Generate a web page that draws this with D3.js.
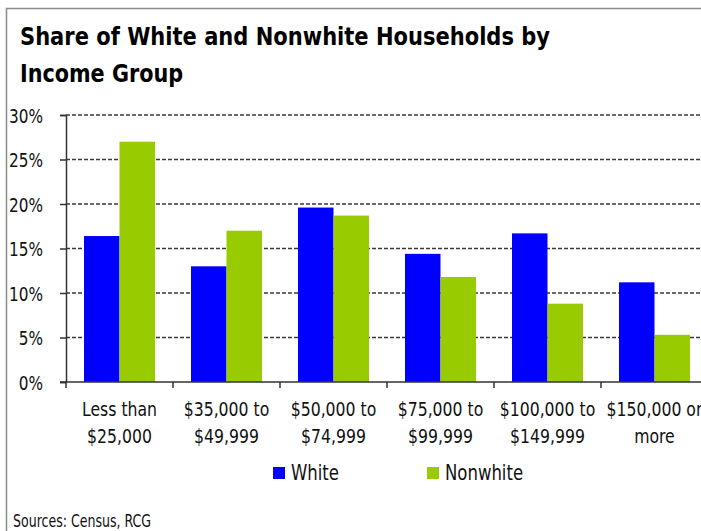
<!DOCTYPE html>
<html>
<head>
<meta charset="utf-8">
<script src="https://cdn.jsdelivr.net/npm/d3@7"></script>
<style>
  html, body { margin: 0; padding: 0; background: #fff; }
  svg { display: block; }
  text { font-stretch: condensed; }
</style>
</head>
<body>
<svg id="chart" width="701" height="531"></svg>
<script>
// Income groups (two-line labels) and household shares, in percent
const categories = [
  ["Less than", "$25,000"],
  ["$35,000 to", "$49,999"],
  ["$50,000 to", "$74,999"],
  ["$75,000 to", "$99,999"],
  ["$100,000 to", "$149,999"],
  ["$150,000 or", "more"]
];
const seriesNames = ["White", "Nonwhite"];
const whiteValues = [16.4, 13.0, 19.6, 14.4, 16.7, 11.2];
const nonwhiteValues = [27.0, 17.0, 18.7, 11.8, 8.8, 5.3];
const yTicks = [0, 5, 10, 15, 20, 25, 30];
const titleLines = ["Share of White and Nonwhite Households by", "Income Group"];
const colors = { White: "#0000ff", Nonwhite: "#99cc00" };

const svg = d3.select("#chart");
const font = '"DejaVu Sans Condensed", "DejaVu Sans", sans-serif';

// narrow a text horizontally by a factor, keeping its anchor point
function squeeze(sel, factor) {
  sel.each(function () {
    const w = this.getComputedTextLength();
    d3.select(this).attr("textLength", w * factor).attr("lengthAdjust", "spacingAndGlyphs");
  });
}
function naturalWidth(str, size, weight) {
  const t = svg.append("text").attr("font-family", font).attr("font-size", size)
    .attr("font-weight", weight || "normal").text(str);
  const w = t.node().getComputedTextLength();
  t.remove();
  return w;
}

// outer frame
svg.append("rect")
  .attr("x", 6.5).attr("y", 8.5)
  .attr("width", 800).attr("height", 600)
  .attr("fill", "none").attr("stroke", "#8c8c8c").attr("stroke-width", 1.5);

// title
const titleTargets = [530, 163];
titleLines.forEach((line, i) => {
  svg.append("text")
    .attr("x", 20).attr("y", 45 + i * 37)
    .attr("font-family", font).attr("font-weight", "bold")
    .attr("font-size", 25).attr("fill", "#000")
    .attr("textLength", titleTargets[i]).attr("lengthAdjust", "spacingAndGlyphs")
    .text(line);
});

// scales
const plotLeft = 66, plotBottom = 382, plotTop = 115, bandW = 107;
const catKeys = categories.map(c => c.join(" "));
const x0 = d3.scaleBand().domain(catKeys).range([plotLeft, plotLeft + bandW * categories.length]);
const x1 = d3.scaleBand().domain(seriesNames).range([18, 89]);
const y = d3.scaleLinear().domain([0, 30]).range([plotBottom, plotTop]);

// dashed gridlines
svg.append("g")
  .selectAll("line")
  .data(yTicks.filter(t => t > 0))
  .join("line")
  .attr("x1", plotLeft).attr("x2", 701)
  .attr("y1", d => y(d)).attr("y2", d => y(d))
  .attr("stroke", "#3a3a3a").attr("stroke-width", 1.4)
  .attr("stroke-dasharray", "4,2");

// bars
const rows = categories.map((c, i) => ({
  key: catKeys[i],
  values: [
    { name: "White", value: whiteValues[i] },
    { name: "Nonwhite", value: nonwhiteValues[i] }
  ]
}));
svg.append("g")
  .selectAll("g")
  .data(rows)
  .join("g")
  .attr("transform", d => `translate(${x0(d.key)},0)`)
  .selectAll("rect")
  .data(d => d.values)
  .join("rect")
  .attr("x", d => x1(d.name))
  .attr("width", x1.bandwidth())
  .attr("y", d => y(d.value))
  .attr("height", d => y(0) - y(d.value))
  .attr("fill", d => colors[d.name]);

// y axis
const yAxis = svg.append("g")
  .attr("transform", `translate(${plotLeft},0)`)
  .call(d3.axisLeft(y).tickValues(yTicks).tickFormat(d => d + "%").tickSize(6).tickPadding(17));
yAxis.select(".domain").attr("stroke", "#333").attr("stroke-width", 1.5);
yAxis.selectAll(".tick line").attr("stroke", "#333").attr("stroke-width", 1.5);
const yLabels = yAxis.selectAll(".tick text")
  .attr("font-family", font).attr("font-size", 20).attr("fill", "#111")
  .attr("dy", "0.35em");
squeeze(yLabels, 34 / naturalWidth("30%", 20));

// x axis baseline with ticks at band edges
const xAxisG = svg.append("g");
xAxisG.append("line")
  .attr("x1", plotLeft - 6).attr("x2", 701)
  .attr("y1", plotBottom).attr("y2", plotBottom)
  .attr("stroke", "#333").attr("stroke-width", 1.5);
xAxisG.selectAll("line.tk")
  .data(catKeys)
  .join("line")
  .attr("class", "tk")
  .attr("x1", d => x0(d)).attr("x2", d => x0(d))
  .attr("y1", plotBottom).attr("y2", plotBottom + 6)
  .attr("stroke", "#333").attr("stroke-width", 1.5);

// category labels, one text per line
const lineData = [];
categories.forEach((c, i) => c.forEach((t, j) => lineData.push({ t, j, key: catKeys[i] })));
const catLabels = xAxisG.selectAll("text.cat")
  .data(lineData)
  .join("text")
  .attr("class", "cat")
  .attr("x", d => x0(d.key) + x0.bandwidth() / 2)
  .attr("y", d => 416 + d.j * 27)
  .attr("font-family", font).attr("font-size", 20).attr("fill", "#111")
  .attr("text-anchor", "middle")
  .text(d => d.t);
squeeze(catLabels, 75 / naturalWidth("Less than", 20));

// legend
const legendX = [273, 427];
const leg = svg.append("g")
  .selectAll("g")
  .data(seriesNames)
  .join("g")
  .attr("transform", (d, i) => `translate(${legendX[i]},467)`);
leg.append("rect").attr("width", 12).attr("height", 12).attr("fill", d => colors[d]);
const legText = leg.append("text")
  .attr("x", 18).attr("y", 13)
  .attr("font-family", font).attr("font-size", 21).attr("fill", "#111")
  .text(d => d);
squeeze(legText, 48 / naturalWidth("White", 21));

// source note
const src = svg.append("text")
  .attr("x", 13).attr("y", 527)
  .attr("font-family", font).attr("font-size", 18).attr("fill", "#111")
  .text("Sources: Census, RCG");
squeeze(src, 138 / naturalWidth("Sources: Census, RCG", 18));
</script>
</body>
</html>
